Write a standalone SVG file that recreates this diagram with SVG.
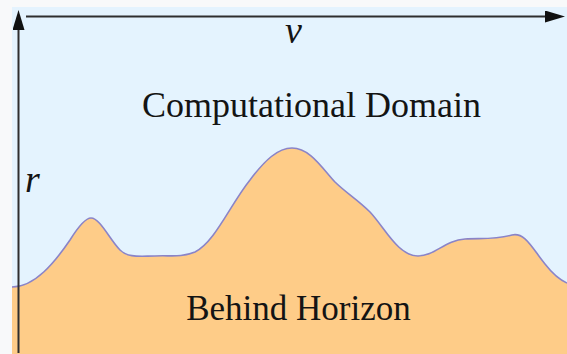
<svg xmlns="http://www.w3.org/2000/svg" width="567" height="354" viewBox="0 0 567 354">
  <defs>
    <style>
      .lbl { font-family: "Liberation Serif", "Times New Roman", serif; fill: #141414; }
      .var { font-family: "Liberation Serif", "Times New Roman", serif; font-style: italic; fill: #141414; }
      .axis { stroke: #2e2e2e; stroke-width: 2; fill: none; }
    </style>
    <marker id="arrow" viewBox="0 0 20 12" refX="0" refY="6" markerWidth="20" markerHeight="12" markerUnits="userSpaceOnUse" orient="auto">
      <path d="M0,0 L20,6 L0,12 Z" fill="#111"/>
    </marker>
  </defs>
  <rect x="0" y="0" width="567" height="354" fill="#f8f9fa"/>
  <g id="computational-domain">
    <rect x="12" y="7" width="555" height="347" fill="#e4f3fe"/>
    <text class="lbl" x="311.5" y="117" font-size="36" text-anchor="middle">Computational Domain</text>
  </g>
  <g id="behind-horizon">
    <path d="M12,287 C35,287 55,262 70,240 C80,224 86,218 91,218 C100,218 110,240 120,250 C128,258 140,256 155,256 C170,255 180,258 195,252 C215,242 230,205 250,180 C265,160 278,148 292,148 C310,148 322,168 335,182 C345,192 358,200 370,212 C385,228 398,256 418,256 C435,256 445,240 465,239 C480,238 495,240 512,235 C525,232 532,248 545,264 C552,273 560,280 567,283 L567,354 L12,354 Z" fill="#fecc88" stroke="none"/>
    <path d="M12,287 C35,287 55,262 70,240 C80,224 86,218 91,218 C100,218 110,240 120,250 C128,258 140,256 155,256 C170,255 180,258 195,252 C215,242 230,205 250,180 C265,160 278,148 292,148 C310,148 322,168 335,182 C345,192 358,200 370,212 C385,228 398,256 418,256 C435,256 445,240 465,239 C480,238 495,240 512,235 C525,232 532,248 545,264 C552,273 560,280 567,283" fill="none" stroke="#8a84c8" stroke-width="1.6"/>
    <text class="lbl" x="298.5" y="320" font-size="35" text-anchor="middle">Behind Horizon</text>
  </g>
  <g id="connectors">
    <line class="axis" x1="18.5" y1="353" x2="18.5" y2="30" marker-end="url(#arrow)"/>
    <line class="axis" x1="26" y1="16.5" x2="545" y2="16.5" marker-end="url(#arrow)"/>
  </g>
  <g id="axis-labels">
    <text class="var" x="285" y="43" font-size="38">v</text>
    <text class="var" x="25" y="192" font-size="38">r</text>
  </g>
</svg>
